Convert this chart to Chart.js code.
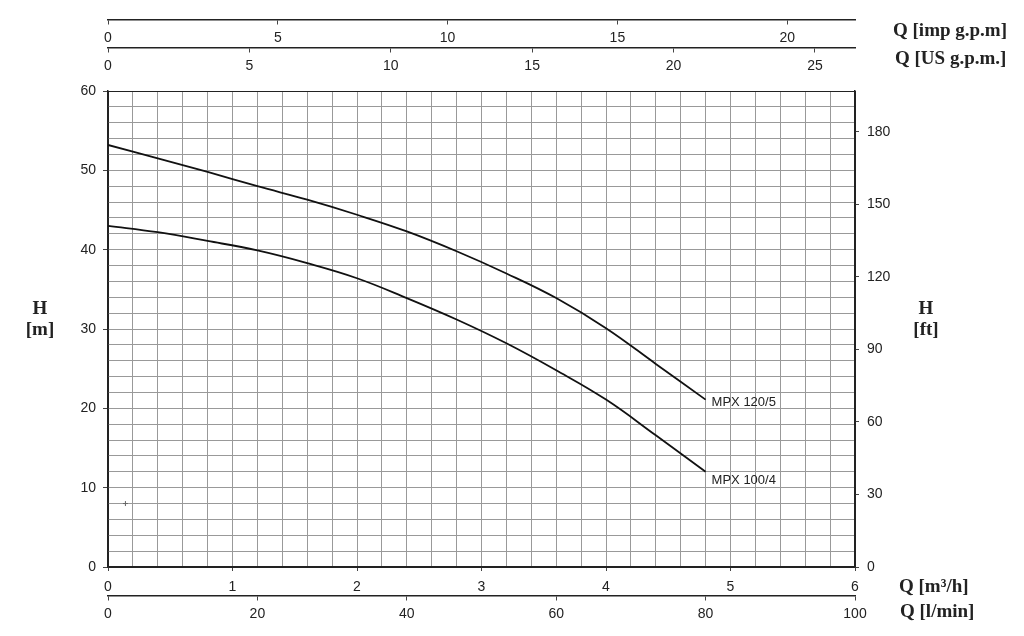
<!DOCTYPE html>
<html>
<head>
<meta charset="utf-8">
<script src="https://cdn.jsdelivr.net/npm/chart.js@4"></script>
<style>
  html, body { margin: 0; padding: 0; background: #fff; }
  #wrap { width: 1024px; height: 636px; }
</style>
</head>
<body>
<div id="wrap"><canvas id="grafico_curvas"></canvas></div>
<script>
// vazão em m3/h e altura manométrica em m
var vazao = [0, 0.4, 0.8, 1.2, 1.6, 2.0, 2.4, 2.8, 3.2, 3.6, 4.0, 4.4, 4.8];
var altura120 = [53.2, 51.5, 49.8, 48.0, 46.3, 44.4, 42.3, 39.8, 37.0, 33.9, 30.1, 25.6, 21.1];
var altura100 = [43.0, 42.2, 41.1, 39.9, 38.3, 36.4, 33.9, 31.2, 28.2, 24.8, 21.1, 16.6, 12.0];
var nomes = ["MPX 120/5", "MPX 100/4"];
var marca = [{ x: 0.14, y: 8 }];

// rótulos dos eixos secundários
var ticksImp = [0, 5, 10, 15, 20];
var ticksUS = [0, 5, 10, 15, 20, 25];
var ticksLmin = [0, 20, 40, 60, 80, 100];
var ticksFt = [0, 30, 60, 90, 120, 150, 180];

// faixas dos eixos (conversões de 6 m3/h e 60 m)
var qMax = 6, lminMax = 100, impMax = 21.997, usMax = 26.417;
var hMax = 60, ftMax = 196.85;
var passoGrade = 0.2, passoH = 2;

function pares(ys) {
  return vazao.map(function (q, i) { return { x: q, y: ys[i] }; });
}

var grade = '#999', borda = '#222';
var fonteTick = { family: 'Liberation Sans', size: 14 };

function fixos(lista) {
  return function (axis) {
    axis.ticks = lista.map(function (v) { return { value: v }; });
  };
}

var textos = {
  id: 'textos',
  afterDraw: function (chart) {
    var ctx = chart.ctx;
    ctx.save();
    ctx.fillStyle = '#222';
    ctx.textBaseline = 'middle';
    ctx.font = 'bold 19px "Liberation Serif"';
    ctx.textAlign = 'left';
    ctx.fillText('Q [imp g.p.m]', 893, 31);
    ctx.fillText('Q [US g.p.m.]', 895, 59);
    ctx.fillText('Q [m\u00b3/h]', 899, 587);
    ctx.fillText('Q [l/min]', 900, 612);
    ctx.textAlign = 'center';
    ctx.fillText('H', 40, 309);
    ctx.fillText('[m]', 40, 330);
    ctx.fillText('H', 926, 309);
    ctx.fillText('[ft]', 926, 330);

    ctx.font = '13px "Liberation Sans"';
    ctx.textAlign = 'left';
    [0, 1].forEach(function (i) {
      var pts = chart.getDatasetMeta(i).data;
      var p = pts[pts.length - 1];
      ctx.fillText(nomes[i], p.x + 6, p.y + (i === 0 ? 3 : 9));
    });
    ctx.restore();
  }
};

new Chart(document.getElementById('grafico_curvas'), {
  type: 'line',
  data: {
    datasets: [{
      label: nomes[0],
      data: pares(altura120),
      borderColor: '#111',
      borderWidth: 1.8,
      pointRadius: 0,
      tension: 0.4,
      fill: false
    }, {
      label: nomes[1],
      data: pares(altura100),
      borderColor: '#111',
      borderWidth: 1.8,
      pointRadius: 0,
      tension: 0.4,
      fill: false
    }, {
      type: 'scatter',
      label: 'marca',
      data: marca,
      pointStyle: 'cross',
      pointRadius: 2.5,
      borderColor: '#666',
      borderWidth: 1
    }]
  },
  options: {
    responsive: true,
    maintainAspectRatio: false,
    animation: false,
    layout: { padding: { top: 91, left: 0, right: 0, bottom: 0 } },
    plugins: { legend: { display: false }, tooltip: { enabled: false } },
    scales: {
      x: {
        type: 'linear', position: 'bottom', min: 0, max: qMax,
        ticks: {
          stepSize: passoGrade, autoSkip: false, maxRotation: 0, padding: 8,
          color: '#222', font: fonteTick,
          callback: function (v) { return Number.isInteger(v) ? v : ''; }
        },
        grid: {
          color: function (c) { return (c.tick && (c.tick.value === 0 || c.tick.value === qMax)) ? borda : grade; },
          tickColor: function (c) { return (c.tick && Number.isInteger(c.tick.value)) ? '#444' : 'rgba(0,0,0,0)'; },
          tickLength: 4
        },
        border: { color: borda, width: 1.5 },
        afterFit: function (axis) { axis.height = 69; }
      },
      lmin: {
        type: 'linear', axis: 'x', position: { y: -3.66 }, min: 0, max: lminMax,
        afterBuildTicks: fixos(ticksLmin),
        ticks: { maxRotation: 0, padding: 6, color: '#222', font: fonteTick },
        grid: { drawOnChartArea: false, tickLength: 4, tickColor: '#444' },
        border: { color: borda, width: 1.5 }
      },
      imp: {
        type: 'linear', axis: 'x', position: { y: 68.95 }, min: 0, max: impMax,
        afterBuildTicks: fixos(ticksImp),
        ticks: { maxRotation: 0, padding: 6, color: '#222', font: fonteTick },
        grid: { drawOnChartArea: false, tickLength: 4, tickColor: '#444' },
        border: { color: borda, width: 1.5 }
      },
      us: {
        type: 'linear', axis: 'x', position: { y: 65.42 }, min: 0, max: usMax,
        afterBuildTicks: fixos(ticksUS),
        ticks: { maxRotation: 0, padding: 6, color: '#222', font: fonteTick },
        grid: { drawOnChartArea: false, tickLength: 4, tickColor: '#444' },
        border: { color: borda, width: 1.5 }
      },
      y: {
        type: 'linear', position: 'left', min: 0, max: hMax,
        ticks: {
          stepSize: passoH, autoSkip: false, padding: 7, color: '#222', font: fonteTick,
          callback: function (v) { return v % 10 === 0 ? v : ''; }
        },
        grid: {
          color: function (c) { return (c.tick && (c.tick.value === 0 || c.tick.value === hMax)) ? borda : grade; },
          tickColor: function (c) { return (c.tick && c.tick.value % 10 === 0) ? '#444' : 'rgba(0,0,0,0)'; },
          tickLength: 5
        },
        border: { color: borda, width: 1.5 },
        afterFit: function (axis) { axis.width = 108; }
      },
      ft: {
        type: 'linear', position: 'right', min: 0, max: ftMax,
        afterBuildTicks: fixos(ticksFt),
        ticks: { padding: 8, color: '#222', font: fonteTick },
        grid: { drawOnChartArea: false, tickLength: 4, tickColor: '#444' },
        border: { color: borda, width: 1.5 },
        afterFit: function (axis) { axis.width = 169; }
      }
    }
  },
  plugins: [textos]
});
</script>
</body>
</html>
